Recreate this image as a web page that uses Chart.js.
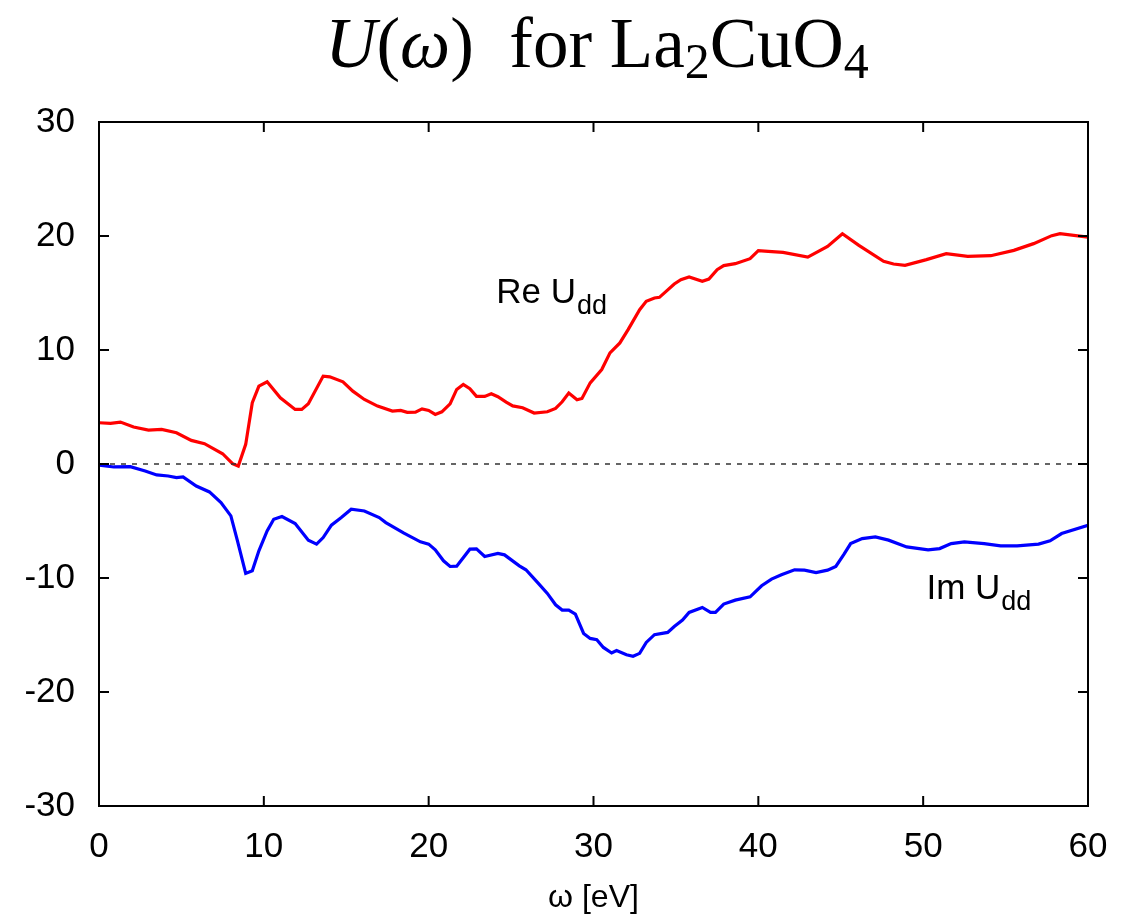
<!DOCTYPE html>
<html>
<head>
<meta charset="utf-8">
<script src="https://cdn.jsdelivr.net/npm/chart.js@4"></script>
<style>
  html, body { margin: 0; padding: 0; background: #fff; }
  #grafico { display: block; }
</style>
</head>
<body>
<canvas id="grafico" width="1140" height="917"></canvas>
<script>
// Re U_dd (omega en eV, valor)
const reOmega = [0,0.7,1.3,2.1,3.0,3.8,4.7,5.6,6.4,7.5,8.1,8.45,8.9,9.3,9.7,10.2,11.0,11.9,12.3,12.7,13.6,14.0,14.8,15.4,16.1,16.9,17.8,18.3,18.7,19.2,19.6,20.0,20.4,20.8,21.3,21.7,22.1,22.5,22.9,23.4,23.8,24.2,24.7,25.1,25.7,26.4,27.2,27.7,28.1,28.5,29.0,29.3,29.8,30.5,31.0,31.6,32.1,32.8,33.2,33.7,34.0,34.9,35.3,35.8,36.6,37.0,37.5,37.9,38.6,39.5,40.0,40.6,41.5,43.0,44.2,45.1,46.1,47.6,48.2,48.9,50.2,51.4,52.7,54.1,55.5,56.7,57.8,58.3,60];
const reValues = [3.62,3.56,3.68,3.24,2.98,3.04,2.74,2.07,1.78,0.9,0.03,-0.18,1.72,5.37,6.83,7.21,5.81,4.79,4.79,5.28,7.71,7.65,7.21,6.39,5.66,5.08,4.64,4.7,4.53,4.55,4.84,4.7,4.35,4.58,5.28,6.54,6.98,6.6,5.93,5.93,6.16,5.9,5.43,5.1,4.93,4.47,4.58,4.88,5.46,6.22,5.63,5.75,7.12,8.29,9.75,10.62,11.79,13.54,14.27,14.56,14.62,15.79,16.17,16.4,16.02,16.22,17.05,17.4,17.57,18.01,18.71,18.65,18.56,18.15,19.09,20.2,19.18,17.78,17.54,17.43,17.93,18.45,18.21,18.27,18.74,19.33,20.03,20.2,19.9];

// Im U_dd
const imOmega = [0,0.9,1.9,2.8,3.5,4.2,4.7,5.1,5.9,6.7,7.4,8.0,8.4,8.9,9.3,9.7,10.2,10.6,11.1,11.9,12.7,13.2,13.6,14.1,14.7,15.3,16.1,17.0,17.4,18.5,19.5,20.0,20.4,20.9,21.3,21.7,22.5,22.9,23.4,24.2,24.6,25.5,25.9,26.6,27.2,27.7,28.1,28.5,28.9,29.4,29.8,30.2,30.6,31.1,31.4,32.0,32.4,32.8,33.2,33.7,34.5,34.9,35.4,35.8,36.6,37.1,37.4,37.9,38.6,39.5,40.2,40.8,41.4,42.2,42.8,43.5,44.2,44.7,45.2,45.6,46.3,47.1,47.9,49.0,50.3,51.0,51.7,52.5,53.7,54.7,55.7,57.0,57.7,58.4,60];
const imValues = [-0.09,-0.26,-0.23,-0.61,-0.96,-1.05,-1.2,-1.14,-1.93,-2.45,-3.39,-4.55,-6.74,-9.6,-9.37,-7.62,-5.87,-4.85,-4.61,-5.22,-6.68,-7.03,-6.45,-5.37,-4.7,-3.97,-4.12,-4.7,-5.14,-6.07,-6.83,-7.03,-7.53,-8.49,-8.99,-8.96,-7.47,-7.44,-8.11,-7.85,-7.97,-8.93,-9.28,-10.39,-11.35,-12.35,-12.81,-12.81,-13.16,-14.86,-15.3,-15.41,-16.09,-16.58,-16.37,-16.73,-16.87,-16.61,-15.65,-14.97,-14.77,-14.25,-13.69,-13.02,-12.58,-13.02,-13.02,-12.29,-11.94,-11.65,-10.68,-10.1,-9.72,-9.28,-9.31,-9.52,-9.31,-8.99,-7.91,-6.98,-6.54,-6.39,-6.68,-7.27,-7.53,-7.42,-6.98,-6.83,-6.98,-7.18,-7.18,-7.03,-6.74,-6.1,-5.37];

// linea de cero punteada
const zeroOmega = [0, 60];
const zeroValues = [0, 0];

// etiquetas de las curvas (posicion en coordenadas de datos)
const curveLabels = [
    { main: 'Re U', sub: 'dd', x: 24.1, y: 14.1 },
    { main: 'Im U', sub: 'dd', x: 50.2, y: -11.85 }
];

const xTicks = [0, 10, 20, 30, 40, 50, 60];
const yTicks = [-30, -20, -10, 0, 10, 20, 30];

const toPoints = (xs, ys) => xs.map((x, i) => ({ x: x, y: ys[i] }));

// Titulo con cursivas y subindices
const titlePlugin = {
    id: 'tituloLatex',
    afterDraw(chart) {
        const ctx = chart.ctx;
        const big = 71, small = 50;
        const serif = '"Liberation Serif", "DejaVu Serif", serif';
        const parts = [
            { t: 'U', f: 'italic ' + big + 'px ' + serif, dy: 0 },
            { t: '(', f: big + 'px ' + serif, dy: 0 },
            { t: 'ω', f: 'italic ' + big + 'px ' + serif, dy: 0 },
            { t: ')', f: big + 'px ' + serif, dy: 0 },
            { t: '  for La', f: big + 'px ' + serif, dy: 0 },
            { t: '2', f: small + 'px ' + serif, dy: 11 },
            { t: 'CuO', f: big + 'px ' + serif, dy: 0 },
            { t: '4', f: small + 'px ' + serif, dy: 11 }
        ];
        ctx.save();
        let total = 0;
        parts.forEach(p => { ctx.font = p.f; p.w = ctx.measureText(p.t).width; total += p.w; });
        let x = 597 - total / 2;
        const base = 67;
        ctx.fillStyle = '#000';
        ctx.textBaseline = 'alphabetic';
        ctx.textAlign = 'left';
        parts.forEach(p => { ctx.font = p.f; ctx.fillText(p.t, x, base + p.dy); x += p.w; });
        ctx.restore();
    }
};

// Marco, ticks hacia adentro y etiquetas de curvas
const framePlugin = {
    id: 'marco',
    afterDatasetsDraw(chart) {
        const ctx = chart.ctx;
        const a = chart.chartArea;
        const xs = chart.scales.x, ys = chart.scales.y;
        const len = 10;
        ctx.save();
        ctx.strokeStyle = '#000';
        ctx.lineWidth = 2;
        ctx.beginPath();
        xTicks.forEach(v => {
            const px = xs.getPixelForValue(v);
            ctx.moveTo(px, a.bottom); ctx.lineTo(px, a.bottom - len);
            ctx.moveTo(px, a.top); ctx.lineTo(px, a.top + len);
        });
        yTicks.forEach(v => {
            const py = ys.getPixelForValue(v);
            ctx.moveTo(a.left, py); ctx.lineTo(a.left + len, py);
            ctx.moveTo(a.right, py); ctx.lineTo(a.right - len, py);
        });
        ctx.stroke();
        ctx.strokeRect(a.left, a.top, a.right - a.left, a.bottom - a.top);

        ctx.fillStyle = '#000';
        ctx.textBaseline = 'alphabetic';
        ctx.textAlign = 'left';
        curveLabels.forEach(l => {
            const px = xs.getPixelForValue(l.x);
            const py = ys.getPixelForValue(l.y);
            ctx.font = '35px "Liberation Sans", Arial, sans-serif';
            ctx.fillText(l.main, px, py);
            const w = ctx.measureText(l.main).width;
            ctx.font = '27px "Liberation Sans", Arial, sans-serif';
            ctx.fillText(l.sub, px + w + 1, py + 11);
        });
        ctx.restore();
    }
};

const ctx = document.getElementById('grafico').getContext('2d');
const chart = new Chart(ctx, {
    type: 'line',
    data: {
        datasets: [
            {
                label: 'cero',
                data: toPoints(zeroOmega, zeroValues),
                borderColor: '#333',
                borderWidth: 1.5,
                borderDash: [5, 6],
                pointRadius: 0
            },
            {
                label: 'Re U_dd',
                data: toPoints(reOmega, reValues),
                borderColor: '#ff0000',
                borderWidth: 3.2,
                pointRadius: 0,
                tension: 0
            },
            {
                label: 'Im U_dd',
                data: toPoints(imOmega, imValues),
                borderColor: '#0000ff',
                borderWidth: 3.2,
                pointRadius: 0,
                tension: 0
            }
        ]
    },
    options: {
        responsive: false,
        animation: false,
        devicePixelRatio: 1,
        layout: { padding: { top: 122, right: 52, left: 0, bottom: 0 } },
        plugins: {
            legend: { display: false },
            tooltip: { enabled: false }
        },
        scales: {
            x: {
                type: 'linear',
                min: 0,
                max: 60,
                afterBuildTicks: s => { s.ticks = xTicks.map(v => ({ value: v })); },
                afterFit: s => { s.height = 111; },
                grid: { display: false, drawTicks: false },
                border: { display: false },
                ticks: {
                    color: '#000',
                    padding: 20,
                    maxRotation: 0,
                    font: { family: '"Liberation Sans", Arial, sans-serif', size: 35 }
                },
                title: {
                    display: true,
                    text: 'ω [eV]',
                    color: '#000',
                    padding: { top: 0, bottom: 0 },
                    font: { family: '"Liberation Sans", Arial, sans-serif', size: 32 }
                }
            },
            y: {
                type: 'linear',
                min: -30,
                max: 30,
                afterBuildTicks: s => { s.ticks = yTicks.map(v => ({ value: v })); },
                afterFit: s => { s.width = 99; },
                grid: { display: false, drawTicks: false },
                border: { display: false },
                ticks: {
                    color: '#000',
                    padding: 24,
                    font: { family: '"Liberation Sans", Arial, sans-serif', size: 35 }
                }
            }
        }
    },
    plugins: [titlePlugin, framePlugin]
});
</script>
</body>
</html>
